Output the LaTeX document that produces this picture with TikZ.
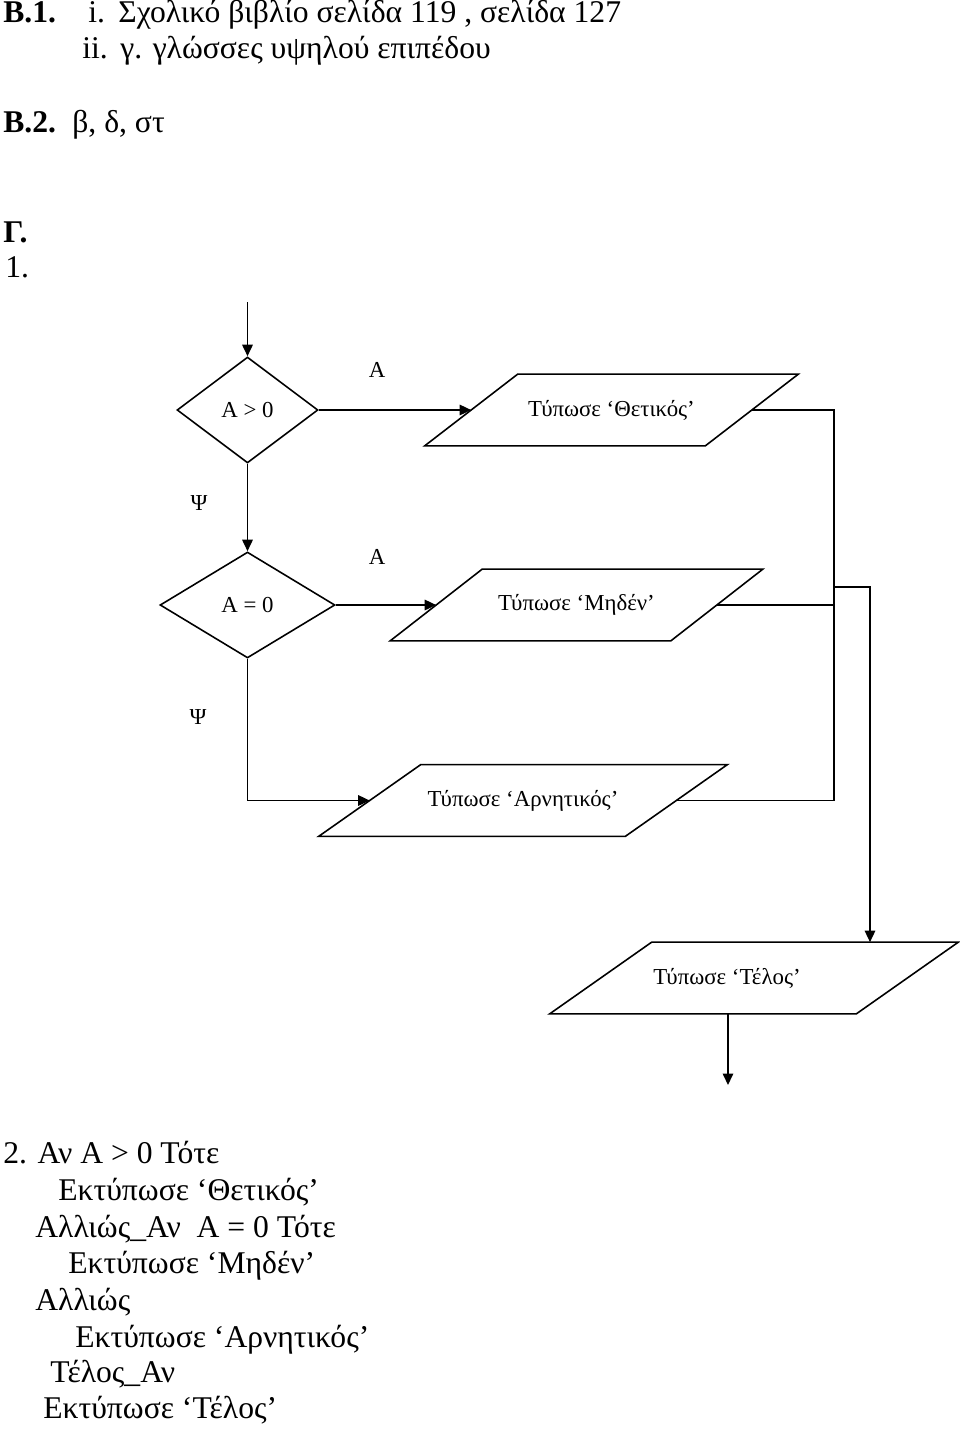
\documentclass[tikz,border=0pt]{standalone}
\usepackage{fontspec}
\setmainfont{Liberation Serif}
\usetikzlibrary{
  positioning,
  shapes.geometric,
  arrows.meta,
  calc
}

\begin{document}
\begin{tikzpicture}[
  x=0.02cm, y=-0.02cm,
  every node/.style={font=\fontsize{13}{15}\selectfont},
  decision/.style={diamond, draw, line width=0.9pt, minimum height=2.12cm, inner sep=0pt},
  printbox/.style={rectangle, minimum height=1.42cm, inner sep=0pt},
  answer/.style={anchor=base west, inner sep=0pt, font=\fontsize{18}{21}\selectfont},
  arrow/.style={line width=0.9pt, -{Triangle[length=2.3mm, width=2.1mm]}},
  link/.style={line width=0.9pt}
]
\useasboundingbox (0,0) rectangle (960,1431);

% Answers B
\node[answer] (b1) at (3,22) {\textbf{Β.1.}};
\node[answer] (b1i) at (88,22) {i.};
\node[answer] (b1itext) at (118,22) {Σχολικό βιβλίο σελίδα 119 , σελίδα 127};
\node[answer] (b1ii) at (82,58) {ii.};
\node[answer] (b1iitext) at (120,58) {γ. γλώσσες υψηλού επιπέδου};
\node[answer] (b2) at (3,132) {\textbf{Β.2.}};
\node[answer] (b2text) at (72,132) {β, δ, στ};
\node[answer] (g) at (3,242) {\textbf{Γ.}};
\node[answer] (g1) at (5,277) {1.};

% Flowchart
\node[decision, minimum width=2.82cm] (d1) at (247.5,410) {Α > 0};
\node[decision, minimum width=3.5cm] (d2) at (247.5,605) {Α = 0};
\node[printbox, minimum width=5.6cm] (thet) at (611.5,410) {Τύπωσε ‘Θετικός’};
\node[printbox, minimum width=5.6cm] (mid) at (576.5,605) {Τύπωσε ‘Μηδέν’};
\node[printbox, minimum width=6.12cm] (arn) at (523,800.5) {Τύπωσε ‘Αρνητικός’};
\node[printbox, minimum width=6.12cm] (tel) at (754,978) {Τύπωσε ‘Τέλος’\hspace{1.08cm}\mbox{}};

% parallelogram outlines
\foreach \n/\s in {thet/1.86cm, mid/1.84cm, arn/2.04cm, tel/2.04cm}
  \draw[link] ([xshift=-\s/2]\n.south west) -- ([xshift=\s/2]\n.north west)
    -- ([xshift=\s/2]\n.north east) -- ([xshift=-\s/2]\n.south east) -- cycle;

\node (yes1) at (377,370) {Α};
\node (no1) at (199,503) {Ψ};
\node (yes2) at (377,557) {Α};
\node (no2) at (198,717) {Ψ};

\coordinate (start) at (247.5,302);
\coordinate (bus) at (834,800.5);
\coordinate (tap) at (834,587);
\coordinate (drop) at (870,587);
\coordinate (exit) at (728,1085);

% Arrows
\draw[arrow] (start) -- (d1.north);
\draw[arrow] (d1.east) -- (thet.west);
\draw[arrow] (d1.south) -- (d2.north);
\draw[arrow] (d2.east) -- (mid.west);
\draw[arrow] (d2.south) |- (arn.west);
\draw[link] (thet.east) -| (bus) -- (arn.east);
\draw[link] (mid.east) -- (mid.east -| bus);
\draw[arrow] (tap) -- (drop) -- (drop |- tel.north);
\draw[arrow] (exit |- tel.south) -- (exit);

% Answer 2
\node[answer] (l1) at (3,1163) {2. Αν Α > 0 Τότε};
\node[answer] (l2) at (58,1200) {Εκτύπωσε ‘Θετικός’};
\node[answer] (l3) at (35,1237) {Αλλιώς\_Αν~~Α = 0 Τότε};
\node[answer] (l4) at (68,1273) {Εκτύπωσε ‘Μηδέν’};
\node[answer] (l5) at (35,1310) {Αλλιώς};
\node[answer] (l6) at (75,1347) {Εκτύπωσε ‘Αρνητικός’};
\node[answer] (l7) at (50,1382) {Τέλος\_Αν};
\node[answer] (l8) at (43,1418) {Εκτύπωσε ‘Τέλος’};

\end{tikzpicture}
\end{document}
